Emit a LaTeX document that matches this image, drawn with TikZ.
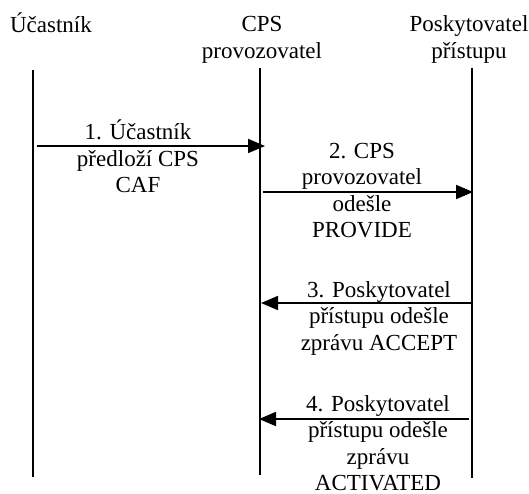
\documentclass[tikz,border=0pt]{standalone}
\usepackage{fontspec}
\setmainfont{Liberation Serif}
\usetikzlibrary{arrows.meta}
\begin{document}
\begin{tikzpicture}[x=1pt,y=-1pt,
  lbl/.style={inner sep=0pt,anchor=base,align=center,font=\fontsize{23}{26.5}\selectfont},
  life/.style={line width=1.8pt},
  msg/.style={line width=1.8pt,-{Triangle[length=17pt,width=14pt]}}]
\useasboundingbox (0,0) rectangle (529,494);
% headers (anchor = baseline of last line)
\node[lbl] (hA) at (51,33) {Účastník};
\node[lbl] (hB) at (262,58.5) {CPS\\provozovatel};
\node[lbl] (hC) at (469,58.5) {Poskytovatel\\přístupu};
% lifeline coordinates
\coordinate (A0) at (33,70);  \coordinate (A1) at (33,477);
\coordinate (B0) at (260,68); \coordinate (B1) at (260,475);
\coordinate (C0) at (472,68); \coordinate (C1) at (472,478);
\draw[life] (A0) -- (A1);
\draw[life] (B0) -- (B1);
\draw[life] (C0) -- (C1);
% message endpoints
\coordinate (m1s) at (37,146);  \coordinate (m1e) at (265,146);
\coordinate (m2s) at (263,192); \coordinate (m2e) at (473,192);
\coordinate (m3s) at (473,303); \coordinate (m3e) at (261,303);
\coordinate (m4s) at (469,419); \coordinate (m4e) at (259,419);
\draw[msg] (m1s) -- (m1e);
\draw[msg] (m2s) -- (m2e);
\draw[msg] (m3s) -- (m3e);
\draw[msg] (m4s) -- (m4e);
% labels (anchor = baseline of last line)
\node[lbl] (t1) at (138,193) {1. Účastník\\předloží CPS\\CAF};
\node[lbl] (t2) at (362,237.5) {2. CPS\\provozovatel\\odešle\\PROVIDE};
\node[lbl] (t3) at (379,350) {3. Poskytovatel\\přístupu odešle\\zprávu ACCEPT};
\node[lbl] (t4) at (378,490.5) {4. Poskytovatel\\přístupu odešle\\zprávu\\ACTIVATED};
\end{tikzpicture}
\end{document}
